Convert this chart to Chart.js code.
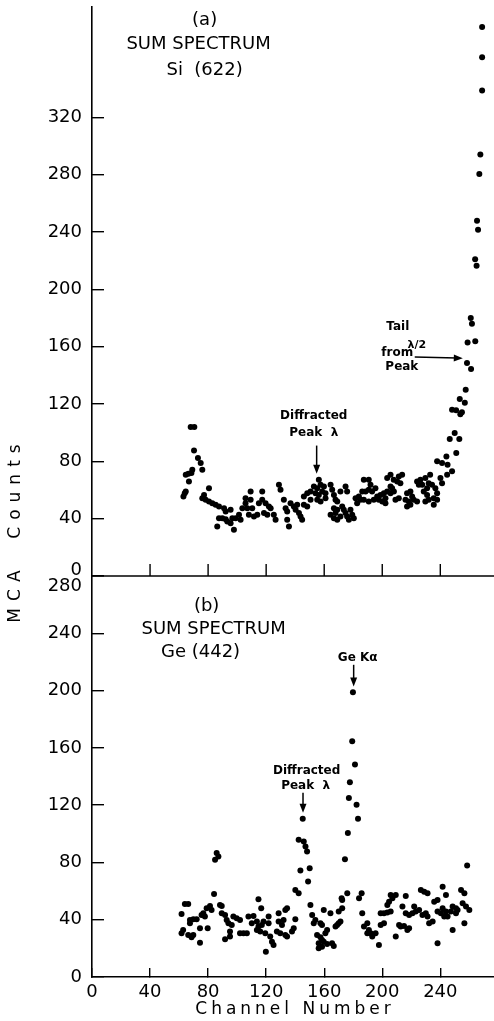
<!DOCTYPE html>
<html>
<head>
<meta charset="utf-8">
<script src="https://cdn.jsdelivr.net/npm/chart.js@4.4.0/dist/chart.umd.min.js"></script>
<style>
  body { margin: 0; background: #fff; }
  canvas { display: block; }
</style>
</head>
<body>
<canvas id="spectra" width="494" height="1021"></canvas>
<script>
// tick labels
const xTicks = [0, 40, 80, 120, 160, 200, 240];
const topTicks = [0, 40, 80, 120, 160, 200, 240, 280, 320];
const bottomTicks = [0, 40, 80, 120, 160, 200, 240, 280];

// (a) Si (622) sum spectrum
const siChannel = [
  63, 63.9, 64.6, 64.6, 66.4, 66.8, 68.5, 69.1, 68, 70.5, 70.3, 73, 74.9, 76,
  76, 77.2, 78.3, 80.6, 80.6, 82.9, 85.2, 87.5, 91, 92.1, 95.5, 87.5, 89.8, 92.1,
  86.3, 93.2, 95.5, 97.8, 96.7, 99, 101.3, 102.4, 103.6, 105.8, 105.8, 109.3, 109.3, 107,
  110.4, 108.1, 111.6, 113.9, 115, 117.3, 117.3, 119.6, 121.9, 123.1, 118.5, 120.8, 125.3, 126.5,
  128.8, 129.9, 132.2, 133.4, 134.5, 134.5, 135.7, 136.8, 139.1, 140.3, 142.6, 143.7, 141.4, 146,
  148.3, 144.8, 146, 148.3, 150.6, 150.6, 152.9, 154, 155.2, 155.2, 156.3, 156.3, 157.5, 157.5,
  158.6, 159.8, 160.9, 160.9, 164.4, 165.5, 166.7, 167.8, 169, 171.2, 174.7, 175.8, 166.7, 167.8,
  169, 164.4, 166.7, 169, 171.2, 172.4, 173.5, 174.7, 175.8, 177, 178.1, 179.3, 180.4, 181.6,
  182.7, 183.9, 185, 187.3, 190.7, 191.9, 186.2, 188.5, 190.7, 193, 195.3, 187.3, 190.7, 194.2,
  196.5, 197.6, 198.8, 200, 201.1, 202.2, 202.2, 203.4, 205.7, 203.4, 205.7, 207.9, 210.3, 211.4,
  213.7, 212.5, 205.7, 206.8, 208, 209.1, 211.4, 216, 217.1, 217.1, 218.3, 219.4, 219.4, 220.6,
  221.7, 224, 224, 225.2, 226.3, 227.5, 228.6, 229.7, 229.7, 230.9, 230.9, 232, 232, 234.3,
  235.5, 235.5, 236.6, 237.8, 237.8, 240.1, 241.2, 233, 237.8, 241.2, 244.7, 244.2, 245, 248.1,
  249.9, 246.5, 253.1, 251, 248.1, 250.9, 254.9, 253.8, 253.4, 256.9, 257.5, 258.4, 261.2, 258.8,
  264.1, 261, 261.8, 264, 265, 265.3, 266, 266.9, 267.6, 268.8, 268.8, 268.8
];
const siCounts = [
  55.5, 57.8, 59, 70.6, 71.3, 65.9, 71.8, 74.1, 104, 104, 87.6, 82.3, 78.8, 74.1,
  54.3, 56.6, 53.2, 61.3, 52, 50.8, 49.7, 48.5, 47.3, 45, 46.2, 40.3, 40.3, 39.6,
  34.5, 38, 36.8, 32.2, 40.3, 40.3, 42.7, 39.2, 47.3, 50.8, 54.3, 53.2, 59, 47.3,
  47.3, 42.7, 41.5, 42.7, 50.8, 53.2, 59, 50.8, 48.5, 47.3, 43.9, 42.7, 42.7, 39.2,
  63.6, 60.1, 53.2, 47.3, 45, 39.2, 34.5, 50.8, 48.5, 46.2, 43.9, 41.5, 49.7, 49.7,
  48.5, 39.2, 55.5, 57.8, 59, 53.2, 62.5, 57.8, 61.3, 53.2, 67.1, 56.6, 63.6, 52,
  59, 62.5, 57.8, 54.3, 63.6, 60.1, 56.6, 53.2, 52, 59, 62.5, 59, 47.3, 43.9,
  46.2, 42.7, 40.3, 39.2, 41.5, 48.5, 46.2, 43.9, 41.5, 39.2, 46.2, 42.7, 40.3, 54.3,
  50.8, 55.5, 53.2, 67.1, 67.1, 63.6, 59, 59, 60.1, 59, 61.3, 53.2, 52, 53.2,
  55.5, 53.2, 56.6, 52, 57.8, 54.3, 50.8, 59, 57.8, 68.3, 70.6, 67.1, 66, 69.5,
  70.6, 64.8, 62.5, 61.3, 59, 53.2, 54.3, 53.2, 57.8, 48.5, 52, 59, 49.7, 55.5,
  53.2, 52, 66, 63.6, 67.1, 63.6, 59, 68.3, 52, 61.3, 56.6, 64.8, 53.2, 63.6,
  54.3, 49.7, 61.3, 57.8, 53.2, 68.3, 64.8, 70.6, 80, 78.8, 70.6, 83.4, 77.6, 73,
  99.8, 95.6, 95.6, 85.8, 116, 115.6, 114.2, 112.8, 123.5, 120.8, 130, 148.7, 144.5, 163,
  163.8, 180, 176, 221, 216.5, 247.8, 241.5, 280.4, 294, 338.7, 362, 383
];

// (b) Ge (442) sum spectrum
const geChannel = [
  61.7, 61.7, 62.8, 64, 66.3, 66.3, 67.5, 67.5, 68.6, 69.8, 69.8, 72.1, 74.4, 74.4,
  75.5, 76.7, 77.8, 79, 79.7, 81.3, 82.4, 84.1, 84.8, 85.9, 87.1, 88.2, 89.4, 89.4,
  91.7, 91.7, 92.8, 94, 95.1, 95.1, 96.3, 97.4, 99.7, 102, 102, 104.4, 106.7, 107.8,
  110.1, 111.3, 113.6, 113.6, 114.7, 114.7, 115.9, 116.6, 117, 118.2, 119.4, 119.8, 121.7, 121.7,
  122.8, 124, 125.1, 127.4, 128.6, 128.6, 129.7, 130.9, 132, 133.2, 133.2, 134.4, 134.4, 137.8,
  139, 140.1, 140.1, 142.4, 142.4, 143.6, 145.2, 145.9, 147.1, 148.2, 148.9, 150, 150.5, 151.7,
  152.8, 153.9, 155.1, 156.2, 156.2, 157.4, 157.4, 158.5, 158.5, 158.5, 159.7, 159.7, 160.8, 162,
  162, 164.3, 165.4, 166.6, 167.8, 168.9, 170, 170, 171.2, 172.4, 172.4, 172, 174.3, 175.9,
  176.3, 177, 177.7, 179.3, 179.8, 181.2, 182.3, 183.3, 184, 185.8, 186.2, 187.4, 189.7, 189.7,
  190.8, 192, 193.1, 195.4, 197.7, 198.9, 198.9, 201.2, 201.2, 203.5, 203.5, 204.7, 205.8, 205.8,
  207, 209.3, 209.3, 211.6, 212.7, 213.9, 215, 216.2, 216.2, 217.3, 218.5, 218.5, 220.8, 222,
  223.1, 225.4, 226.6, 227.7, 228.9, 230, 231.2, 231.2, 232.3, 234.7, 235.8, 238.1, 238.1, 238.1,
  240.4, 241.6, 241.6, 242.7, 243.9, 243.9, 245, 247.3, 248.5, 248.5, 250.8, 250.8, 251.9, 254.3,
  255.4, 256.6, 256.6, 257.7, 258.5, 260
];
const geCounts = [
  44, 30.5, 32.8, 51, 51, 29.3, 39.8, 37.5, 27.7, 40.3, 29.3, 40.3, 34, 24,
  43.3, 44.5, 42.2, 48, 34, 49.6, 46.8, 58, 81.8, 86.5, 84.1, 50.3, 49.6, 44.5,
  43.3, 26.3, 39.8, 37.5, 31.7, 28.2, 36.3, 42.2, 41, 39.8, 30.5, 30.5, 30.5, 42.2,
  37.5, 42.6, 38.7, 32.8, 35.2, 54.3, 31.7, 48, 36.3, 38.7, 30.5, 17.7, 42.2, 37.5,
  28.2, 24.7, 22.3, 31.7, 44.5, 38.7, 30.5, 36.3, 39.8, 46.8, 29.3, 48, 28.2, 31.7,
  34, 40.3, 60.8, 58.5, 95.8, 74.3, 110.5, 94.6, 91.1, 87.6, 66.6, 76, 50.3, 43.3,
  37.5, 39.8, 29.3, 23.5, 20, 37.5, 27.7, 36.3, 25.8, 21.2, 24.7, 46.8, 30.5, 32.8,
  23, 44.5, 23.5, 21.6, 35.2, 36.3, 37.5, 45.7, 38.7, 48, 53.8, 55, 82.3, 58.5,
  100.5, 125, 135.9, 164.6, 198.8, 148.3, 120.3, 110.5, 55, 58.5, 44.5, 35.2, 37.5, 30.5,
  32.8, 30.5, 28.2, 30.5, 22.3, 36.3, 44.5, 37.5, 44.5, 45, 50.3, 52.6, 45.7, 57.3,
  55, 57.3, 28.2, 36.3, 35.2, 49.2, 35.6, 56.6, 44.5, 32.8, 34, 43.3, 44.5, 49.2,
  45.7, 46.8, 60.8, 43.3, 59.6, 44.5, 58.5, 42.2, 37.5, 38.7, 52.6, 53.8, 23.5, 45.7,
  44.5, 48, 63.1, 42.2, 45.7, 57.3, 42.2, 45.7, 49.2, 32.8, 48, 44.5, 46.8, 60.8,
  51.5, 58.5, 37.5, 49.2, 77.8, 46.8
];

const FONT = '"DejaVu Sans", sans-serif';

// text placed in data coordinates of each panel
const notes = [
  { axis: 'yTop', x: 77.6, y: 388, text: '(a)', font: '18px' },
  { axis: 'yTop', x: 73.4, y: 371, text: 'SUM SPECTRUM', font: '18px' },
  { axis: 'yTop', x: 77.6, y: 353, text: 'Si  (622)', font: '18px' },
  { axis: 'yTop', x: 152.8, y: 112, text: 'Diffracted', font: 'bold 12px' },
  { axis: 'yTop', x: 152.8, y: 100, text: 'Peak  \u03bb', font: 'bold 12px' },
  { axis: 'yTop', x: 210.7, y: 174, text: 'Tail', font: 'bold 12px' },
  { axis: 'yTop', x: 210.3, y: 156, text: 'from', font: 'bold 12px' },
  { axis: 'yTop', x: 223.8, y: 161, text: '\u03bb/2', font: 'bold 11px' },
  { axis: 'yTop', x: 213.5, y: 146, text: 'Peak', font: 'bold 12px' },
  { axis: 'yBot', x: 79, y: 258.7, text: '(b)', font: '18px' },
  { axis: 'yBot', x: 83.8, y: 242.7, text: 'SUM SPECTRUM', font: '18px' },
  { axis: 'yBot', x: 74.8, y: 226.6, text: 'Ge (442)', font: '18px' },
  { axis: 'yBot', x: 183.1, y: 223, text: 'Ge K\u03b1', font: 'bold 12px' },
  { axis: 'yBot', x: 147.9, y: 144, text: 'Diffracted', font: 'bold 12px' },
  { axis: 'yBot', x: 147.2, y: 133.6, text: 'Peak  \u03bb', font: 'bold 12px' }
];
const arrows = [
  { axis: 'yTop', x1: 154.8, y1: 91, x2: 154.8, y2: 71.3 },
  { axis: 'yTop', x1: 222.4, y1: 152.8, x2: 255.5, y2: 152 },
  { axis: 'yBot', x1: 180.3, y1: 218, x2: 180.3, y2: 202.8 },
  { axis: 'yBot', x1: 145.4, y1: 128.7, x2: 145.4, y2: 114.7 }
];

function drawArrow(ctx, x1, y1, x2, y2) {
  const a = Math.atan2(y2 - y1, x2 - x1);
  const c = Math.cos(a), s = Math.sin(a);
  ctx.beginPath();
  ctx.moveTo(x1, y1);
  ctx.lineTo(x2 - 6 * c, y2 - 6 * s);
  ctx.stroke();
  ctx.beginPath();
  ctx.moveTo(x2, y2);
  ctx.lineTo(x2 - 9 * c + 3.5 * s, y2 - 9 * s - 3.5 * c);
  ctx.lineTo(x2 - 9 * c - 3.5 * s, y2 - 9 * s + 3.5 * c);
  ctx.closePath();
  ctx.fill();
}

const panelExtras = {
  id: 'panelExtras',
  afterDraw(chart) {
    const ctx = chart.ctx;
    const xs = chart.scales.x;
    const yTop = chart.scales.yTop;
    const area = chart.chartArea;
    ctx.save();
    ctx.fillStyle = '#000';
    ctx.strokeStyle = '#000';

    // baseline of the upper panel with its inward ticks
    const base = yTop.bottom;
    ctx.lineWidth = 1.6;
    ctx.beginPath();
    ctx.moveTo(area.left, base);
    ctx.lineTo(area.right, base);
    ctx.stroke();
    ctx.lineWidth = 1.4;
    xTicks.slice(1).forEach(v => {
      const px = xs.getPixelForValue(v);
      ctx.beginPath();
      ctx.moveTo(px, base);
      ctx.lineTo(px, base - 12);
      ctx.stroke();
    });

    // zero of the upper panel and top of the lower panel, pushed apart
    ctx.font = '18px ' + FONT;
    ctx.textAlign = 'right';
    ctx.textBaseline = 'middle';
    ctx.fillText('0', area.left - 10, base - 6);
    ctx.fillText('280', area.left - 10, base + 10);

    ctx.textAlign = 'center';
    notes.forEach(n => {
      ctx.font = n.font + ' ' + FONT;
      ctx.fillText(n.text, xs.getPixelForValue(n.x), chart.scales[n.axis].getPixelForValue(n.y));
    });

    ctx.lineWidth = 1.5;
    arrows.forEach(a => {
      const ys = chart.scales[a.axis];
      drawArrow(ctx, xs.getPixelForValue(a.x1), ys.getPixelForValue(a.y1),
        xs.getPixelForValue(a.x2), ys.getPixelForValue(a.y2));
    });

    // axis titles, spaced out like the original lettering
    ctx.font = '17px ' + FONT;
    ctx.letterSpacing = '4px';
    ctx.fillText('Channel Number', 295, 1010);
    ctx.save();
    ctx.translate(16, 530);
    ctx.rotate(-Math.PI / 2);
    ctx.letterSpacing = '7px';
    ctx.fillText('MCA  Counts', 0, 0);
    ctx.restore();
    ctx.restore();
  }
};

// fixed axis sizes, and no label overhang padding so the panels fill the canvas
function fixSize(prop, size) {
  return s => {
    s[prop] = size;
    s.paddingTop = s.paddingBottom = s.paddingLeft = s.paddingRight = 0;
  };
}

const tickFont = { family: FONT, size: 18 };
const axisGrid = { drawOnChartArea: false, drawTicks: true, tickLength: -12, color: '#000', lineWidth: 1.4 };
const axisBorder = { color: '#000', width: 1.6 };

new Chart(document.getElementById('spectra'), {
  type: 'scatter',
  data: {
    datasets: [
      {
        label: 'Si (622)',
        data: siChannel.map((c, i) => ({ x: c, y: siCounts[i] })),
        yAxisID: 'yTop',
        pointRadius: 3,
        pointBackgroundColor: '#000',
        pointBorderWidth: 0
      },
      {
        label: 'Ge (442)',
        data: geChannel.map((c, i) => ({ x: c, y: geCounts[i] })),
        yAxisID: 'yBot',
        pointRadius: 3,
        pointBackgroundColor: '#000',
        pointBorderWidth: 0
      }
    ]
  },
  options: {
    responsive: false,
    animation: false,
    devicePixelRatio: 1,
    layout: { autoPadding: false, padding: { top: 7, left: 0, right: 0, bottom: 0 } },
    plugins: { legend: { display: false }, tooltip: { enabled: false } },
    scales: {
      x: {
        type: 'linear',
        position: 'bottom',
        min: 0,
        max: 277,
        afterBuildTicks: s => { s.ticks = xTicks.map(v => ({ value: v })); },
        afterFit: fixSize('height', 44),
        border: axisBorder,
        grid: { ...axisGrid, tickLength: -9 },
        ticks: { color: '#000', font: { family: FONT, size: 18 }, padding: 14, autoSkip: false, maxRotation: 0 }
      },
      yTop: {
        type: 'linear',
        position: 'left',
        stack: 'panels',
        stackWeight: 569,
        weight: 2,
        min: 0,
        max: 397,
        afterBuildTicks: s => { s.ticks = topTicks.map(v => ({ value: v })); },
        afterFit: fixSize('width', 92),
        border: axisBorder,
        grid: axisGrid,
        ticks: { color: '#000', font: tickFont, padding: 22, callback: v => (v === 0 ? '' : v) }
      },
      yBot: {
        type: 'linear',
        position: 'left',
        stack: 'panels',
        stackWeight: 401,
        weight: 1,
        min: 0,
        max: 280,
        afterBuildTicks: s => { s.ticks = bottomTicks.map(v => ({ value: v })); },
        afterFit: fixSize('width', 92),
        border: axisBorder,
        grid: axisGrid,
        ticks: { color: '#000', font: tickFont, padding: 22, callback: v => (v === 280 ? '' : v) }
      }
    }
  },
  plugins: [panelExtras]
});
</script>
</body>
</html>
